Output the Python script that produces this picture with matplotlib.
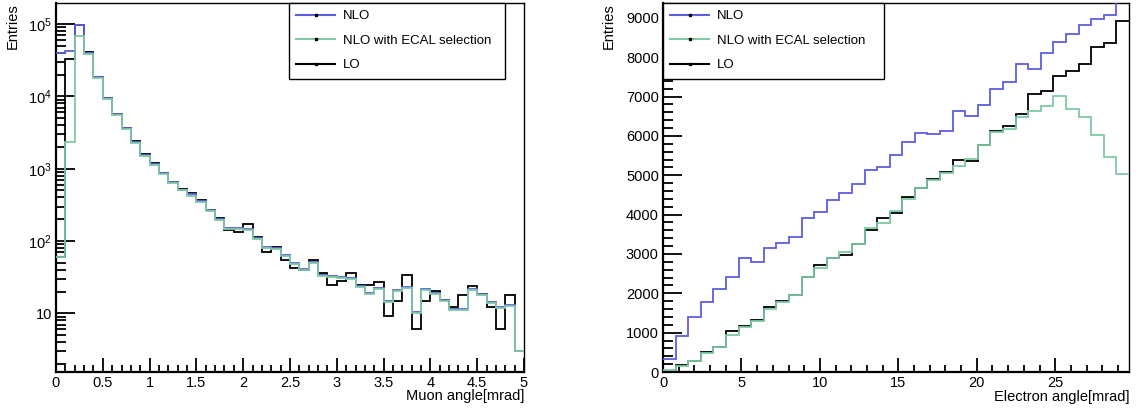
import numpy as np
import matplotlib
matplotlib.use("Agg")
import matplotlib.pyplot as plt
from matplotlib.lines import Line2D
from matplotlib.ticker import MultipleLocator, LogLocator, FuncFormatter, NullFormatter

plt.rcParams['font.family'] = ['Liberation Sans', 'DejaVu Sans']
plt.rcParams['mathtext.fontset'] = 'custom'
plt.rcParams['mathtext.rm'] = 'Liberation Sans'
plt.rcParams['mathtext.it'] = 'Liberation Sans:italic'

# ==================== 数据 ====================
# muon angle, 50 bins 0-5 mrad
muon_edges = np.linspace(0, 5, 51)
muon_nlo = [39700, 41800, 98000, 40000, 18300, 9400, 5700, 3610, 2360, 1560,
            1160, 865, 650, 515, 440, 363, 265, 202, 150, 150,
            145, 110, 82, 81, 64, 49, 41, 51, 34, 32.5,
            32, 31, 24.2, 19, 22.4, 15, 20.8, 23.4, 10.3, 21.7,
            19.1, 15.3, 11.5, 11.5, 21.7, 18.5, 14.2, 12.1, 13.1, 3.05]
muon_ecal = [60, 2360, 67400, 39000, 17800, 9100, 5500, 3500, 2290, 1510,
             1120, 840, 630, 500, 425, 352, 257, 196, 145, 145,
             140, 106, 80, 78, 62, 48, 40, 50, 33, 31.5,
             31, 30, 23.5, 18.5, 21.8, 14.6, 20.2, 22.8, 10, 21.1,
             18.6, 15, 11.2, 11.2, 21.1, 18, 13.8, 11.8, 12.8, 3]
muon_lo = [60, 32800, 98000, 40500, 18600, 9500, 5750, 3650, 2400, 1580,
           1200, 870, 655, 520, 468, 372, 271, 205, 140, 132,
           170, 115, 70, 84, 55, 42, 40, 55, 36, 24.7,
           27.7, 36, 24.7, 24.7, 27.4, 9.1, 15, 34, 6.1, 15,
           20.6, 15.3, 12.1, 18.2, 24.2, 18.5, 12.1, 6.1, 18.2, 3]

# electron angle, 37 bins 0-29.7 mrad
el_edges = np.linspace(0, 29.7, 38)
el_nlo = [330, 915, 1407, 1788, 2102, 2407, 2890, 2788, 3161, 3271,
          3424, 3924, 4068, 4373, 4542, 4771, 5136, 5220, 5520, 5839,
          6068, 6051, 6136, 6644, 6508, 6797, 7186, 7381, 7831, 7703,
          8102, 8381, 8602, 8822, 8966, 9076, 9700]
el_ecal = [45, 161, 280, 490, 644, 932, 1152, 1297, 1593, 1788,
           1966, 2424, 2644, 2907, 3059, 3263, 3669, 3780, 4093, 4398,
           4669, 4873, 5051, 5246, 5415, 5771, 6110, 6169, 6492, 6636,
           6763, 7017, 6686, 6492, 6025, 5475, 5034]
el_lo = [30, 178, 288, 500, 644, 1051, 1169, 1313, 1644, 1805,
         1966, 2424, 2712, 2907, 2983, 3263, 3610, 3924, 4030, 4441,
         4686, 4907, 5093, 5390, 5373, 5771, 6127, 6254, 6551, 7076,
         7153, 7525, 7661, 7822, 8271, 8356, 8932]

labels = ['NLO', 'NLO with ECAL selection', 'LO']
COLORS = {'NLO': '#5e5ee0', 'NLO with ECAL selection': '#7fc9a4', 'LO': 'black'}
LW = 1.3
FS_TICK = 10.5
FS_LAB = 10.5

# ==================== 绘图 ====================
fig = plt.figure(figsize=(11.37, 4.12), dpi=100)
ax1 = fig.add_axes([56 / 1137, 40 / 412, 468 / 1137, 369 / 412])
ax2 = fig.add_axes([663 / 1137, 40 / 412, 466 / 1137, 369 / 412])


def draw(ax, edges, nlo, ecal, lo):
    ax.stairs(lo, edges, color=COLORS['LO'], lw=LW, baseline=None, zorder=2)
    ax.stairs(nlo, edges, color=COLORS['NLO'], lw=LW, baseline=None, zorder=3)
    ax.stairs(ecal, edges, color=COLORS['NLO with ECAL selection'], lw=LW,
              baseline=None, zorder=4)


def style(ax):
    for side in ['top', 'right']:
        ax.spines[side].set_linewidth(1.0)
    for side in ['left', 'bottom']:
        ax.spines[side].set_linewidth(1.6)
    ax.tick_params(which='both', direction='in', top=False, right=False,
                   labelsize=FS_TICK, pad=3, width=1.3)
    ax.tick_params(axis='x', which='major', length=10)
    ax.tick_params(axis='x', which='minor', length=5)
    ax.tick_params(axis='y', which='major', length=14)
    ax.tick_params(axis='y', which='minor', length=7)


def legend(ax, x0, w):
    handles = [Line2D([], [], color=COLORS[l], lw=1.5, marker='s', markersize=2,
                      markerfacecolor='k', markeredgecolor='k') for l in labels]
    leg = ax.legend(handles, labels, loc='upper left',
                    bbox_to_anchor=(x0, 0, w, 1.0), mode='expand',
                    borderaxespad=0, fontsize=9.5, labelspacing=0.92,
                    borderpad=0.55, handlelength=2.95, handletextpad=0.6,
                    fancybox=False, framealpha=1, edgecolor='black')
    leg.get_frame().set_linewidth(1.0)
    leg.set_zorder(10)


def log_fmt(v, pos):
    n = int(round(np.log10(v)))
    if n == 1:
        return '10'
    return r'$10^{%d}$' % n


# 左图：muon
draw(ax1, muon_edges, muon_nlo, muon_ecal, muon_lo)
ax1.set_yscale('log')
ax1.set_xlim(0, 5)
ax1.set_ylim(1.55, 1.95e5)
ax1.xaxis.set_major_locator(MultipleLocator(0.5))
ax1.xaxis.set_minor_locator(MultipleLocator(0.1))
ax1.xaxis.set_major_formatter(FuncFormatter(lambda v, p: f'{v:g}'))
ax1.yaxis.set_major_locator(LogLocator(base=10, numticks=10))
ax1.yaxis.set_minor_locator(LogLocator(base=10, subs=np.arange(2, 10), numticks=20))
ax1.yaxis.set_major_formatter(FuncFormatter(log_fmt))
ax1.yaxis.set_minor_formatter(NullFormatter())
style(ax1)
ax1.set_xlabel('Muon angle[mrad]', fontsize=FS_LAB, loc='right')
ax1.xaxis.set_label_coords(1.0, -0.047)
ax1.xaxis.label.set_va('top')
ax1.set_ylabel('Entries', fontsize=FS_LAB, loc='top')
ax1.yaxis.set_label_coords(-0.077, 1.0)
legend(ax1, 0.498, 0.461)

# 右图：electron
draw(ax2, el_edges, el_nlo, el_ecal, el_lo)
ax2.set_xlim(0, 29.7)
ax2.set_ylim(0, 9379)
ax2.xaxis.set_major_locator(MultipleLocator(5))
ax2.xaxis.set_minor_locator(MultipleLocator(1))
ax2.yaxis.set_major_locator(MultipleLocator(1000))
ax2.yaxis.set_minor_locator(MultipleLocator(200))
style(ax2)
ax2.set_xlabel('Electron angle[mrad]', fontsize=FS_LAB, loc='right')
ax2.xaxis.set_label_coords(1.0, -0.050)
ax2.xaxis.label.set_va('top')
ax2.set_ylabel('Entries', fontsize=FS_LAB, loc='top')
ax2.yaxis.set_label_coords(-0.101, 1.0)
legend(ax2, 0.0, 0.474)

fig.savefig('out.png', dpi=100)
plt.close(fig)
